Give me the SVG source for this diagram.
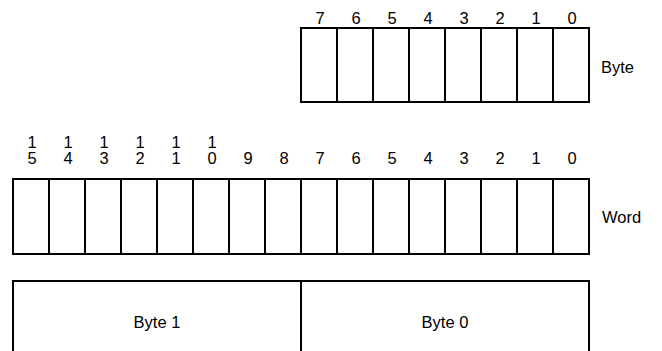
<svg xmlns="http://www.w3.org/2000/svg" width="662" height="351" viewBox="0 0 662 351">
<style>
.cell{fill:#fff;stroke:#000;stroke-width:2}
.ln{stroke:#000;stroke-width:2;fill:none}
text{font-family:"Liberation Sans",Arial,sans-serif;fill:#000}
.d{font-size:16.5px;text-anchor:middle}
.l{font-size:16.5px}
.c{font-size:16.5px;text-anchor:middle}
</style>
<rect width="662" height="351" fill="#fff"/>
<g id="byte">
<rect class="cell" x="301" y="28" width="288" height="74"/>
<path class="ln" d="M337 28V102M373 28V102M409 28V102M445 28V102M481 28V102M517 28V102M553 28V102"/>
<text class="d" x="320" y="24">7</text>
<text class="d" x="356" y="24">6</text>
<text class="d" x="392" y="24">5</text>
<text class="d" x="428" y="24">4</text>
<text class="d" x="464" y="24">3</text>
<text class="d" x="500" y="24">2</text>
<text class="d" x="536" y="24">1</text>
<text class="d" x="572" y="24">0</text>
<text class="l" x="601" y="73">Byte</text>
</g>
<g id="word">
<rect class="cell" x="13" y="179" width="576" height="75"/>
<path class="ln" d="M49 179V254M85 179V254M121 179V254M157 179V254M193 179V254M229 179V254M265 179V254M301 179V254M337 179V254M373 179V254M409 179V254M445 179V254M481 179V254M517 179V254M553 179V254"/>
<text class="d" x="32" y="148">1</text><text class="d" x="32" y="164">5</text>
<text class="d" x="68" y="148">1</text><text class="d" x="68" y="164">4</text>
<text class="d" x="104" y="148">1</text><text class="d" x="104" y="164">3</text>
<text class="d" x="140" y="148">1</text><text class="d" x="140" y="164">2</text>
<text class="d" x="176" y="148">1</text><text class="d" x="176" y="164">1</text>
<text class="d" x="212" y="148">1</text><text class="d" x="212" y="164">0</text>
<text class="d" x="248" y="164">9</text>
<text class="d" x="284" y="164">8</text>
<text class="d" x="320" y="164">7</text>
<text class="d" x="356" y="164">6</text>
<text class="d" x="392" y="164">5</text>
<text class="d" x="428" y="164">4</text>
<text class="d" x="464" y="164">3</text>
<text class="d" x="500" y="164">2</text>
<text class="d" x="536" y="164">1</text>
<text class="d" x="572" y="164">0</text>
<text class="l" x="602" y="223">Word</text>
</g>
<g id="bytes">
<rect class="cell" x="13" y="281" width="576" height="80"/>
<path class="ln" d="M301 281V351"/>
<text class="c" x="157" y="328">Byte 1</text>
<text class="c" x="445" y="328">Byte 0</text>
</g>
</svg>
